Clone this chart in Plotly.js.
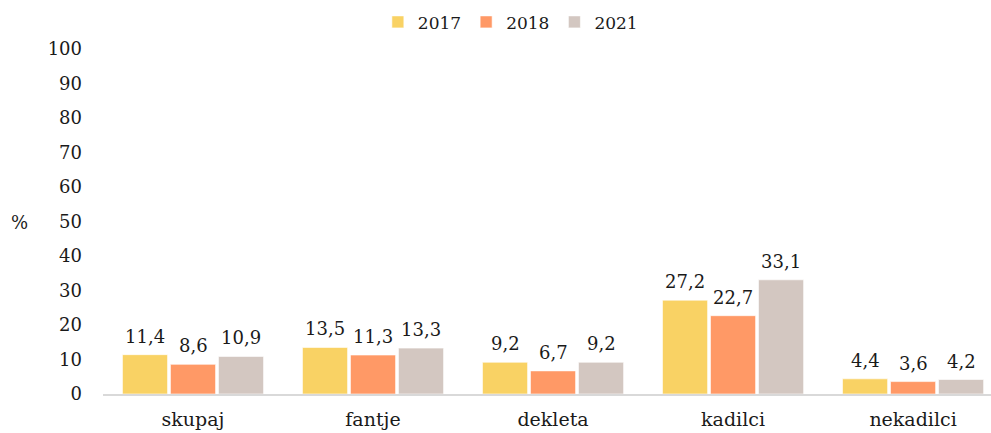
<!DOCTYPE html>
<html>
<head>
<meta charset="utf-8">
<script src="https://cdn.plot.ly/plotly-3.0.1.min.js"></script>
<style>html,body{margin:0;padding:0;background:#fff;}#chart{width:991px;height:433px;}</style>
</head>
<body>
<div id="chart"></div>
<script>
const categories = ["skupaj", "fantje", "dekleta", "kadilci", "nekadilci"];
const seriesNames = ["2017", "2018", "2021"];
const values2017 = [11.4, 13.5, 9.2, 27.2, 4.4];
const values2018 = [8.6, 11.3, 6.7, 22.7, 3.6];
const values2021 = [10.9, 13.3, 9.2, 33.1, 4.2];
const yTicks = [0, 10, 20, 30, 40, 50, 60, 70, 80, 90, 100];

const colors = ["#F9D264", "#FF9966", "#D3C7C1"];
const FONT = "DejaVu Serif, Liberation Serif, serif";
const fmt = v => v.toFixed(1).replace(".", ",");

const W = 991, H = 433;
const margin = {l: 103, r: 0, t: 49, b: 39};
const xRange = [-0.5, 4.433];
const bargap = 0.2;
const pxPerCat = (W - margin.l - margin.r) / (xRange[1] - xRange[0]);
const slot = pxPerCat * (1 - bargap) / 3;

const allValues = [values2017, values2018, values2021];
const traces = allValues.map((vals, i) => ({
  type: "bar",
  name: seriesNames[i],
  x: categories,
  y: vals,
  marker: {color: colors[i], line: {color: "rgba(255,255,255,0.6)", width: 1}},
  hoverinfo: "skip"
}));

const annotations = [];
allValues.forEach((vals, i) => {
  vals.forEach((v, j) => {
    annotations.push({
      text: fmt(v), xref: "x", yref: "y", x: categories[j], y: v,
      xanchor: "center", yanchor: "bottom", yshift: 6,
      xshift: (i - 1) * slot, showarrow: false,
      font: {family: FONT, size: 18, color: "#1a1a1a"}
    });
  });
});
annotations.push({
  text: "%", xref: "paper", yref: "paper",
  x: -0.0935, y: 0.496, xanchor: "center", yanchor: "middle",
  showarrow: false, font: {family: FONT, size: 18, color: "#1a1a1a"}
});

const layout = {
  width: W, height: H,
  margin: margin,
  paper_bgcolor: "#fff", plot_bgcolor: "#fff",
  font: {family: FONT, size: 18, color: "#1a1a1a"},
  barmode: "group",
  bargap: bargap,
  bargroupgap: 0.06,
  showlegend: true,
  legend: {
    orientation: "h", xref: "container", yref: "container",
    x: 0.515, xanchor: "center", y: 0.99, yanchor: "top",
    font: {family: FONT, size: 17, color: "#1a1a1a"},
    traceorder: "normal"
  },
  xaxis: {
    range: xRange,
    showgrid: false, zeroline: false, showline: true,
    linecolor: "#d9d9d9", linewidth: 2,
    ticks: "", ticklabelstandoff: 7,
    tickfont: {family: FONT, size: 19, color: "#1a1a1a"},
    fixedrange: true
  },
  yaxis: {
    range: [0, 100],
    tickvals: yTicks,
    ticktext: yTicks.map(String),
    showgrid: false, zeroline: false, showline: false,
    ticks: "", ticklabelstandoff: 20,
    tickfont: {family: FONT, size: 18, color: "#1a1a1a"},
    fixedrange: true
  },
  annotations: annotations
};

Plotly.newPlot("chart", traces, layout, {displayModeBar: false, staticPlot: true});
</script>
</body>
</html>
